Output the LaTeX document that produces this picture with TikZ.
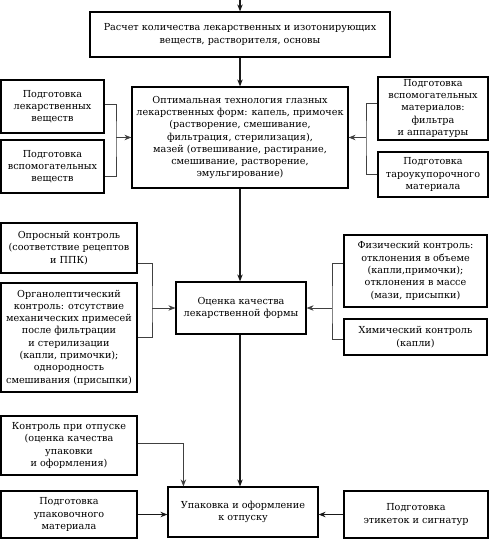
\documentclass[tikz,border=0pt]{standalone}
\usepackage{fontspec}
\setmainfont{DejaVu Serif}
\usetikzlibrary{arrows.meta}
\begin{document}
\begin{tikzpicture}[x=1pt,y=-1pt,
  box/.style={draw=black,line width=1.2pt,rectangle,inner sep=0pt,align=center,
    font=\fontsize{9.65}{12.3}\selectfont,text=black},
  conn/.style={line width=0.8pt,draw=black!75},
  arr/.style={conn,-{Stealth[length=7pt,width=5.5pt,inset=2.3pt]}},
  marr/.style={arr,line width=1.1pt,draw=black!90}]
\useasboundingbox (0,0) rectangle (489,540);
\coordinate (start) at (240,0);
\node[box,minimum width=300,minimum height=45] (top) at (240,34.5)
  {Расчет количества лекарственных и изотонирующих\\веществ, растворителя, основы};
\node[box,minimum width=216,minimum height=101] (opt) at (240,137.5)
  {Оптимальная технология глазных\\лекарственных форм: капель, примочек\\(растворение, смешивание,\\фильтрация, стерилизация),\\мазей (отвешивание, растирание,\\смешивание, растворение,\\эмульгирование)};
\node[box,minimum width=103,minimum height=53] (L1) at (52.5,106.5)
  {Подготовка\\лекарственных\\веществ};
\node[box,minimum width=103,minimum height=53] (L2) at (52.5,166.5)
  {Подготовка\\вспомогательных\\веществ};
\node[box,minimum width=110,minimum height=63] (R1) at (433,108.5)
  {Подготовка\\вспомогательных\\материалов:\\фильтра\\и аппаратуры};
\node[box,minimum width=110,minimum height=45] (R2) at (433,174.5)
  {Подготовка\\тароукупорочного\\материала};
\node[box,minimum width=130,minimum height=52] (Q) at (241,308)
  {Оценка качества\\лекарственной формы};
\node[box,minimum width=136,minimum height=50] (QL1) at (69,248)
  {Опросный контроль\\(соответствие рецептов\\и ППК)};
\node[box,minimum width=136,minimum height=109] (QL2) at (69,337.5)
  {Органолептический\\контроль: отсутствие\\механических примесей\\после фильтрации\\и стерилизации\\(капли, примочки);\\однородность\\смешивания (присыпки)};
\node[box,minimum width=143,minimum height=72] (QR1) at (415.5,271)
  {Физический контроль:\\отклонения в объеме\\(капли,примочки);\\отклонения в массе\\(мази, присыпки)};
\node[box,minimum width=143,minimum height=36] (QR2) at (415.5,337)
  {Химический контроль\\(капли)};
\node[box,minimum width=150,minimum height=50] (P) at (243,512)
  {Упаковка и оформление\\к отпуску};
\node[box,minimum width=136,minimum height=59] (B1) at (69,445.5)
  {Контроль при отпуске\\(оценка качества\\упаковки\\и оформления)};
\node[box,minimum width=136,minimum height=47] (B2) at (69,514.5)
  {Подготовка\\упаковочного\\материала};
\node[box,minimum width=144,minimum height=47] (B3) at (416,514.5)
  {Подготовка\\этикеток и сигнатур};
% brackets
\coordinate (bl) at (116,137.5);
\coordinate (br) at (366,137.5);
\coordinate (ql) at (152,308);
\coordinate (qr) at (332,308);
% main flow
\draw[marr] (start) -- (top.north);
\draw[marr] (top.south) -- (opt.north);
\draw[marr] (opt.south) -- (opt.south |- Q.north);
\draw[marr] (opt.south |- Q.south) -- (opt.south |- P.north);
% left bracket top
\draw[conn] ([yshift=2.5pt]L1.east) -| (bl) |- ([yshift=-9.5pt]L2.east);
\draw[arr] (bl) -- (opt.west);
% right bracket top
\draw[conn] ([yshift=5.5pt]R1.west) -| (br) |- (R2.west);
\draw[arr] (br) -- (opt.east);
% quality brackets
\draw[conn] ([yshift=-15pt]QL1.east) -| (ql) |- (QL2.east);
\draw[arr] (ql) -- (Q.west);
\draw[conn] ([yshift=8pt]QR1.west) -| (qr) |- ([yshift=-2pt]QR2.west);
\draw[arr] (qr) -- (Q.east);
% bottom
\draw[arr] ([yshift=2.5pt]B1.east) -| ([xshift=16pt]P.north west);
\draw[marr] (B2.east) -- (B2.east -| P.west);
\draw[marr] (B3.west) -- (B3.west -| P.east);
\end{tikzpicture}
\end{document}
